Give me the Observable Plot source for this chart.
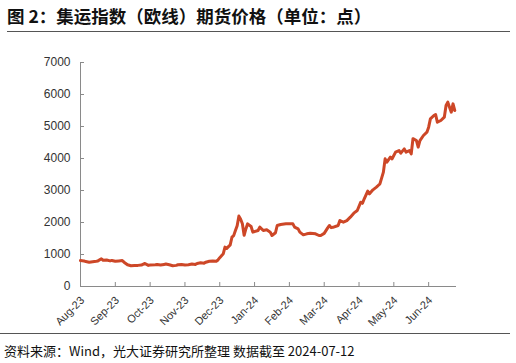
<!DOCTYPE html>
<html><head><meta charset="utf-8">
<script src="https://cdn.jsdelivr.net/npm/d3@7"></script>
<script src="https://cdn.jsdelivr.net/npm/@observablehq/plot@0.6"></script>
<style>
body{margin:0;background:#fff;}
#wrap{position:relative;width:516px;height:363px;overflow:hidden;background:#fff;}
#title{position:absolute;left:7px;top:3px;font:bold 17.5px "Noto Sans CJK SC",sans-serif;color:#111;white-space:nowrap;}
#rule1{position:absolute;left:7px;top:31px;width:503px;border-top:1px solid #555;}
#chart{position:absolute;left:0;top:40px;}
#rule2{position:absolute;left:0;top:333px;width:510px;border-top:1px solid #555;}
#caption{position:absolute;left:4px;top:341px;font:13px "Noto Sans CJK SC",sans-serif;color:#111;white-space:nowrap;}
</style></head>
<body>
<div id="wrap">
<div id="title">图 2：集运指数（欧线）期货价格（单位：点）</div>
<div id="rule1"></div>
<div id="chart"></div>
<div id="rule2"></div>
<div id="caption">资料来源：Wind，光大证券研究所整理 数据截至 2024-07-12</div>
</div>
<script>
// trading-day index of each reading
const dayIndex = [0,2,3,5,7,9,10,12,13,15,17,18,20,22,24,25,27,29,31,33,35,37,39,40,43,44,46,48,49,51,53,55,56,58,60,62,64,66,67,69,71,72,74,76,78,79,80,82,83,84,86,87,88,89,90,91,92,93,94,95,96,98,99,102,103,105,107,109,110,112,113,115,118,122,123,125,126,128,130,132,135,137,138,140,142,143,144,145,148,149,151,153,155,157,159,161,162,163,165,166,168,170,171,172,174,175,176,178,179,181,183,184,186,187,189,190,191,193,194,195,197,199,200,201,203,204,205,207,209,210,211,212,213,214,215];
// price (points)
const price = [812,800,780,760,775,790,800,865,820,830,800,815,790,800,810,760,680,650,655,660,670,720,660,670,680,690,670,690,700,680,650,660,680,690,670,680,700,690,720,740,730,760,790,800,790,830,900,1020,1230,1190,1300,1540,1590,1750,1900,2200,2100,1960,1600,1800,1958,1875,1698,1750,1854,1750,1771,1698,1594,1680,1906,1937,1958,1958,1854,1802,1698,1615,1646,1667,1646,1594,1594,1660,1833,1906,1840,1850,1906,2062,2010,2060,2167,2292,2375,2635,2600,2740,2979,2896,3021,3104,3156,3208,3573,3990,3885,4042,3990,4198,4250,4167,4302,4198,4250,4146,4620,4562,4354,4560,4719,4822,4979,5240,5344,5375,5135,5187,5292,5656,5760,5604,5447,5708,5500];
const tickIndex = [0,20,40,60,80,100,120,140,160,180,200];
const monthLabels = ["Aug-23","Sep-23","Oct-23","Nov-23","Dec-23","Jan-24","Feb-24","Mar-24","Apr-24","May-24","Jun-24"];
const yTicks = [0,1000,2000,3000,4000,5000,6000,7000];

const data = dayIndex.map((d,i)=>({i:d, v:price[i]}));
const labelOf = new Map(tickIndex.map((d,i)=>[d, monthLabels[i]]));
const axisColor = "#8a8a8a";

const chart = Plot.plot({
  width: 516, height: 293,
  marginTop: 22, marginBottom: 47, marginLeft: 80, marginRight: 60,
  x: {domain: [0, 216], label: null},
  y: {domain: [0, 7000], label: null},
  style: {fontFamily: "'Liberation Sans', Arial, sans-serif", fontSize: "11px", color: "#333", background: "transparent"},
  marks: [
    Plot.axisY({ticks: yTicks, tickSize: 0, tickPadding: 10, fontSize: 12, tickFormat: d => String(d), label: null}),
    Plot.axisX({ticks: tickIndex, tickSize: 0, tickPadding: 12, dx: 2, tickRotate: -45, tickFormat: d => labelOf.get(d), label: null}),
    Plot.tickX(tickIndex, {x: d => d, insetTop: 220, stroke: axisColor}),
    Plot.tickY(yTicks, {y: d => d, insetRight: 372, stroke: axisColor}),
    Plot.ruleX([0], {stroke: axisColor}),
    Plot.ruleY([0], {stroke: axisColor}),
    Plot.line(data, {x: "i", y: "v", stroke: "#CD4727", strokeWidth: 3, strokeLinejoin: "round"})
  ]
});
document.getElementById("chart").appendChild(chart);
</script>
</body></html>
